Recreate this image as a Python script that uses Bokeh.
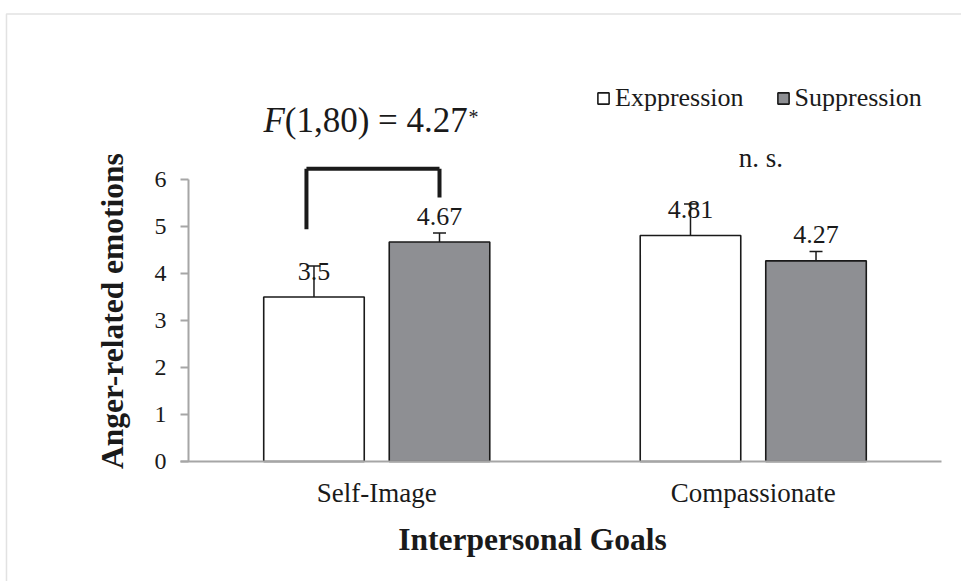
import numpy as np
from bokeh.plotting import figure
from bokeh.models import (ColumnDataSource, Range1d, FixedTicker, Label, Legend,
                          LegendItem, Whisker, TeeHead, BoxAnnotation)
from bokeh.embed import file_html
from bokeh.resources import INLINE

# Mean anger-related emotion scores by interpersonal goal and regulation strategy
goals = ["Self-Image", "Compassionate"]
expression = [3.5, 4.81]
suppression = [4.67, 4.27]
expression_err = [0.66, 0.67]
suppression_err = [0.19, 0.20]
y_ticks = [0, 1, 2, 3, 4, 5, 6]

SERIF = "Liberation Serif"
INK = "#1a1a1a"
centers = np.arange(len(goals)) + 0.5
offset = 0.1667
bar_w = 0.267

# the plotting frame fills the whole canvas; axes sit at x=0 / y=0 inside it
p = figure(width=961, height=581, output_backend="svg", toolbar_location=None,
           x_range=Range1d(-0.4993, 2.0531), y_range=Range1d(-2.553, 9.809),
           min_border=0, min_border_left=0, min_border_right=0,
           min_border_top=0, min_border_bottom=0)
p.title.visible = False
p.outline_line_color = None
p.xgrid.visible = False
p.ygrid.visible = False

exp_src = ColumnDataSource(dict(x=centers - offset, top=expression,
                                lower=np.array(expression) - np.array(expression_err),
                                upper=np.array(expression) + np.array(expression_err),
                                lbl=[str(v) for v in expression]))
sup_src = ColumnDataSource(dict(x=centers + offset, top=suppression,
                                lower=np.array(suppression) - np.array(suppression_err),
                                upper=np.array(suppression) + np.array(suppression_err),
                                lbl=[str(v) for v in suppression]))

r_exp = p.vbar(x="x", top="top", width=bar_w, source=exp_src,
               fill_color="white", line_color=INK, line_width=1.6)
r_sup = p.vbar(x="x", top="top", width=bar_w, source=sup_src,
               fill_color="#8e8f93", line_color=INK, line_width=1.6)

# value labels above each bar
for src in (exp_src, sup_src):
    p.text(x="x", y="top", text="lbl", source=src, text_align="center",
           text_baseline="middle", y_offset=-26, text_font=SERIF,
           text_font_size="26px", text_color=INK)

# error bars
for src in (exp_src, sup_src):
    p.add_layout(Whisker(base="x", lower="lower", upper="upper", source=src,
                         line_color=INK, line_width=1.5,
                         upper_head=TeeHead(size=13, line_color=INK, line_width=1.5),
                         lower_head=TeeHead(size=13, line_color=INK, line_width=1.5)))

# significance bracket over the Self-Image pair
bx0 = centers[0] - offset - 0.02
bx1 = centers[0] + offset
p.segment(x0=[bx0, bx0, bx1], y0=[4.94, 6.23, 6.23], x1=[bx0, bx1, bx1], y1=[6.23, 6.23, 5.62],
          line_color=INK, line_width=4)

# statistics annotations
fx = 0.2558   # split point between the italic F and the rest
p.add_layout(Label(x=fx, y=7.26, text="F",
                   text_font=SERIF, text_font_style="italic", text_font_size="35px",
                   text_align="right", text_baseline="middle", text_color=INK))
p.add_layout(Label(x=fx, y=7.26, text="(1,80) = 4.27",
                   text_font=SERIF, text_font_size="35px", text_align="left",
                   text_baseline="middle", text_color=INK))
p.add_layout(Label(x=0.7437, y=7.33, text="*",
                   text_font=SERIF, text_font_size="20px", text_align="left",
                   text_baseline="alphabetic", text_color=INK))
p.add_layout(Label(x=centers[1] + 0.02, y=6.45, text="n. s.",
                   text_font=SERIF, text_font_size="27px", text_align="center",
                   text_baseline="middle", text_color=INK))

# axes
xa = p.xaxis[0]
xa.fixed_location = 0
xa.bounds = (-0.0212, 2.0)
xa.ticker = FixedTicker(ticks=list(centers))
xa.major_label_overrides = {float(c): g for c, g in zip(centers, goals)}
xa.axis_line_color = "#a6a6a6"
xa.axis_line_width = 2
xa.major_tick_line_color = None
xa.minor_tick_line_color = None
xa.major_label_text_font = SERIF
xa.major_label_text_font_size = "27px"
xa.major_label_text_color = INK
xa.major_label_standoff = 10

ya = p.yaxis[0]
ya.fixed_location = 0
ya.ticker = FixedTicker(ticks=y_ticks)
ya.bounds = (0, 6)
ya.axis_line_color = "#a6a6a6"
ya.axis_line_width = 2
ya.major_tick_line_color = "#a6a6a6"
ya.major_tick_line_width = 2
ya.major_tick_out = 8
ya.major_tick_in = 0
ya.minor_tick_line_color = None
ya.major_label_text_font = SERIF
ya.major_label_text_font_size = "24px"
ya.major_label_text_color = INK
ya.major_label_standoff = 14

# axis titles
p.add_layout(Label(x=-0.2018, y=3.2, text="Anger-related emotions", angle=np.pi / 2,
                   text_font=SERIF, text_font_style="bold", text_font_size="31.5px",
                   text_align="center", text_baseline="middle", text_color=INK))
p.add_layout(Label(x=0.9137, y=-1.66, text="Interpersonal Goals",
                   text_font=SERIF, text_font_style="bold", text_font_size="31.5px",
                   text_align="center", text_baseline="middle", text_color=INK))

# chart area border (top and left edges; the rest runs off the canvas)
p.add_layout(BoxAnnotation(left=-0.4834, right=3, top=9.521, bottom=-5,
                           fill_alpha=0, line_color="#a0a0a0", line_width=1.5))

legend = Legend(items=[LegendItem(label="Exppression", renderers=[r_exp]),
                       LegendItem(label="Suppression", renderers=[r_sup])],
                orientation="horizontal", location=(596, 468),
                glyph_width=14, glyph_height=14, label_height=14,
                label_standoff=5, spacing=32, padding=0, margin=0,
                border_line_color=None, background_fill_alpha=0,
                label_text_font=SERIF, label_text_font_size="26px",
                label_text_color=INK)
p.add_layout(legend)

open("out.html", "w").write(file_html(p, INLINE))
